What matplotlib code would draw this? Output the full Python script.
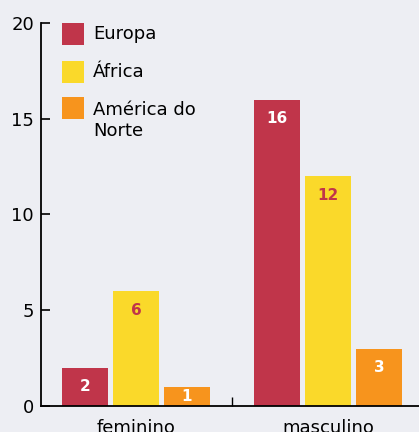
import numpy as np
import matplotlib.pyplot as plt
from matplotlib.patches import Rectangle

# Dados
categorias = ['feminino', 'masculino']
regioes = ['Europa', 'África', 'América do\nNorte']
europa = [2, 16]
africa = [6, 12]
america = [1, 3]

cores = ['#C0354A', '#FAD92A', '#F7941D']
cor_rotulo = ['white', '#C0354A', 'white']
fundo = '#EDEEF3'

plt.rcParams['font.family'] = 'DejaVu Sans'

fig = plt.figure(figsize=(4.19, 4.32), dpi=100, facecolor=fundo)
ax = fig.add_axes([41 / 419, 26 / 432, 1 - 41 / 419, (406 - 23) / 432])
ax.set_facecolor(fundo)

x = np.arange(len(categorias))
largura = 0.24
passo = 51 / 192

for k, serie in enumerate([europa, africa, america]):
    pos = x + (k - 1) * passo
    barras = ax.bar(pos, serie, largura, color=cores[k])
    for b, v in zip(barras, serie):
        yl = v - 1 if v > 1 else v / 2
        ax.text(b.get_x() + b.get_width() / 2, yl, str(v), ha='center',
                va='center', fontsize=11, fontweight='bold',
                color=cor_rotulo[k])

ax.set_ylim(0, 20)
ax.set_xlim(-95 / 192, 283 / 192)
ax.set_yticks([0, 5, 10, 15, 20])
ax.set_xticks(x)
ax.set_xticklabels(categorias)
ax.set_xticks([0.5], minor=True)

ax.tick_params(axis='y', direction='in', length=6.5, width=1.2,
               labelsize=13, pad=5)
ax.tick_params(axis='x', which='major', length=0, labelsize=13, pad=9.5)
ax.tick_params(axis='x', which='minor', direction='in', length=6.5, width=1)

for lado in ['top', 'right']:
    ax.spines[lado].set_visible(False)
for lado in ['left', 'bottom']:
    ax.spines[lado].set_linewidth(1.3)

# Legenda desenhada à mão (quadrados alinhados à primeira linha)
larg_ax, alt_ax = 378.0, 383.0
topos = [23, 61, 97]
centros_txt = [34, 72, 120.5]
for cor, nome, topo, ct in zip(cores, regioes, topos, centros_txt):
    y0 = (406 - topo - 22) / alt_ax
    ax.add_patch(Rectangle(((62 - 41) / larg_ax, y0), 22 / larg_ax,
                           22 / alt_ax, transform=ax.transAxes,
                           facecolor=cor, edgecolor='none', clip_on=False))
    ax.text((93 - 41) / larg_ax, (406 - ct) / alt_ax, nome,
            transform=ax.transAxes, fontsize=13, va='center', ha='left',
            linespacing=1.2)

fig.savefig('out.png', dpi=100, facecolor=fundo)
